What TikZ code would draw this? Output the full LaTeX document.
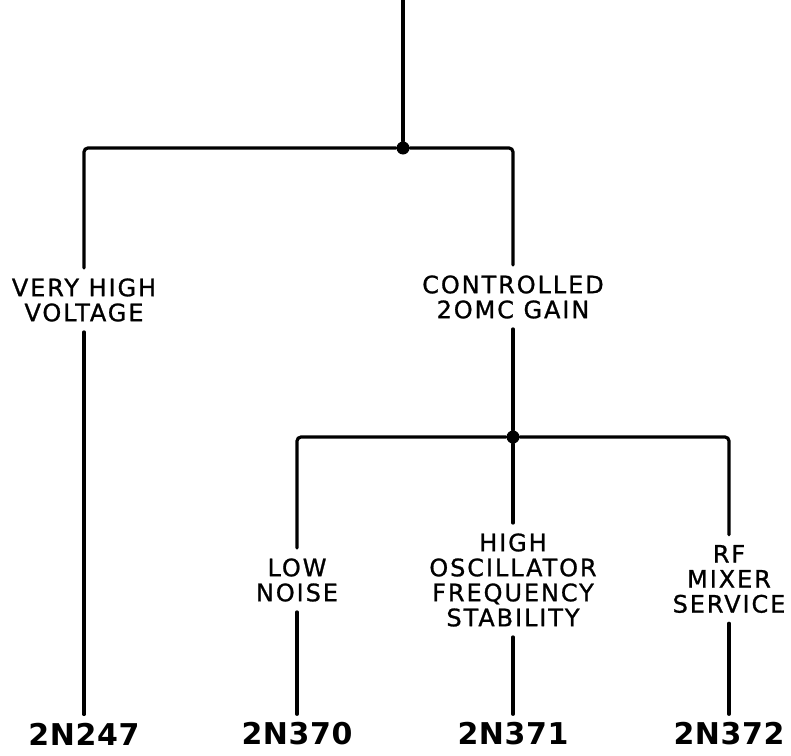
\documentclass[tikz,border=0pt]{standalone}
\usepackage{fontspec}
\setmainfont{DejaVu Sans}[LetterSpace=8, FakeBold=1]
\newfontfamily\typefont{DejaVu Sans Bold}[LetterSpace=2]
\usetikzlibrary{positioning}

\begin{document}
\begin{tikzpicture}[
    x=0.5pt, y=-0.5pt,
    wire/.style={line width=1.6pt, line cap=round, rounded corners=2pt},
    junction/.style={circle, fill=black, inner sep=0pt, minimum size=6.5pt},
    need/.style={font=\fontsize{12}{12.5}\selectfont, align=center, inner xsep=2pt, inner ysep=5pt},
    part/.style={font=\typefont\fontsize{15}{15}\selectfont, inner sep=4pt}
]
\useasboundingbox (0,0) rectangle (791,755);

% branch points
\coordinate (top) at (403,0);
\node[junction] (j1) at (403,148) {};
\node[junction] (j2) at (513,437) {};

% requirements
\node[need] (vhv) at (84,300) {VERY HIGH\\VOLTAGE};
\node[need] (ctl) at (513,297) {CONTROLLED\\2OMC GAIN};
\node[need] (low) at (297,580) {LOW\\NOISE};
\node[need] (osc) at (513,580) {HIGH\\OSCILLATOR\\FREQUENCY\\STABILITY};
\node[need] (rf) at (729,579) {RF\\MIXER\\SERVICE};

% transistor types
\node[part] (t247) at (84,734) {2N247};
\node[part] (t370) at (297,734) {2N370};
\node[part] (t371) at (513,734) {2N371};
\node[part] (t372) at (729,734) {2N372};

\draw[wire] (top) -- (j1);
\draw[wire] (j1) -| (vhv);
\draw[wire] (j1) -| (ctl);
\draw[wire] (vhv) -- (t247);
\draw[wire] (ctl) -- (j2);

\draw[wire] (j2) -| (low);
\draw[wire] (j2) -- (osc);
\draw[wire] (j2) -| (rf);
\draw[wire] (low) -- (t370);
\draw[wire] (osc) -- (t371);
\draw[wire] (rf) -- (t372);
\end{tikzpicture}
\end{document}
